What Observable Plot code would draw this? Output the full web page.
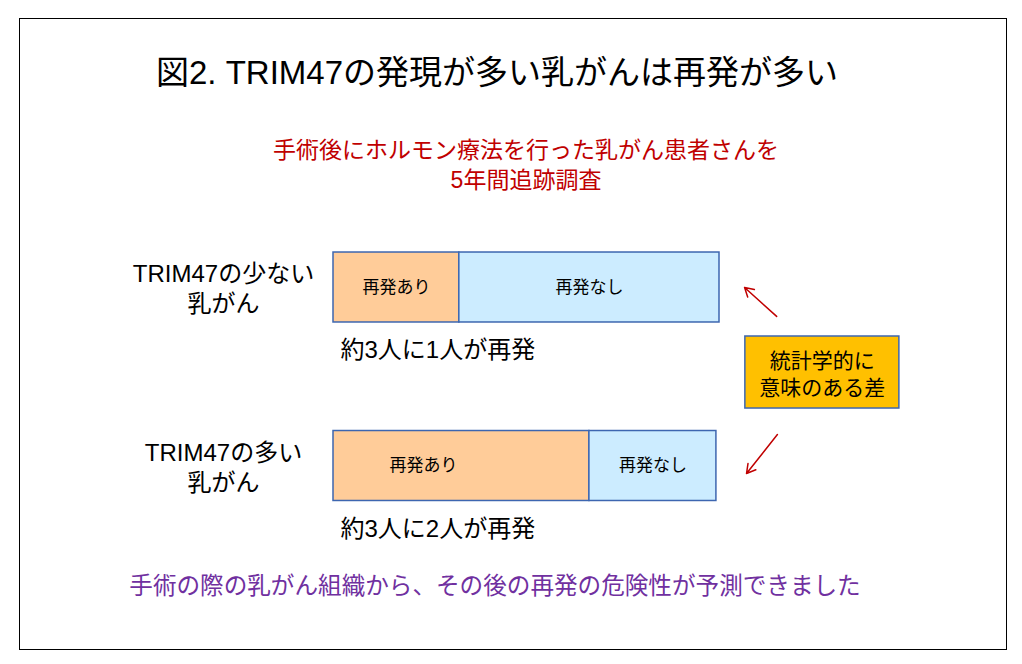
<!DOCTYPE html>
<html><head><meta charset="utf-8">
<script src="https://cdn.jsdelivr.net/npm/d3@7"></script>
<script src="https://cdn.jsdelivr.net/npm/@observablehq/plot@0.6"></script>
<style>
body{margin:0;background:#fff;font-family:"Liberation Sans","Noto Sans CJK JP",sans-serif;}
#page{position:relative;width:1022px;height:664px;overflow:hidden;background:#fff}
#frame{position:absolute;left:19px;top:18px;width:988px;height:632px;border:1.5px solid #000;box-sizing:border-box}
.t{position:absolute;left:0;text-align:center;white-space:pre}
#title{top:55px;width:994px;font-size:33px;line-height:36px;color:#000}
#sub{top:135px;width:1052px;font-size:23px;line-height:30px;color:#C00000}
#cap{top:571px;width:990px;font-size:23.6px;line-height:30px;color:#7030A0}
#chart{position:absolute;left:0;top:230px}
</style></head>
<body><div id="page"><div id="frame"></div>
<div class="t" id="title"></div><div class="t" id="sub"></div><div class="t" id="cap"></div>
<div id="chart"></div></div>
<script>
// ---- data ----
const titleText = "図2. TRIM47の発現が多い乳がんは再発が多い";
const subtitleText = "手術後にホルモン療法を行った乳がん患者さんを\n5年間追跡調査";
const captionText = "手術の際の乳がん組織から、その後の再発の危険性が予測できました";
const groups = ["TRIM47の少ない\n乳がん", "TRIM47の多い\n乳がん"];
const statuses = ["再発あり", "再発なし"];
const recurPct = [32.6, 66.3];
const noRecurPct = [67.4, 32.9];
const summaries = ["約3人に1人が再発", "約3人に2人が再発"];
const noteText = "統計学的に\n意味のある差";

document.getElementById("title").textContent = titleText;
document.getElementById("sub").textContent = subtitleText;
document.getElementById("cap").textContent = captionText;

const rows = groups.map((g, i) => ({group: g, idx: i + 1, summary: summaries[i]}));
const segs = [];
groups.forEach((g, i) => {
  let acc = 0;
  [recurPct[i], noRecurPct[i]].forEach((v, j) => {
    segs.push({group: g, idx: i + 1, status: statuses[j], value: v, x1: acc, x2: acc + v});
    acc += v;
  });
});
const half = 0.196;
const mid = d => (d.x1 + d.x2) / 2;
// annotation layout (in chart units)
const note = [{x1: 106.7, x2: 146.6, y1: 1.2745, y2: 1.678, text: noteText}];
const arrows = [
  {x1: 114.8, y1: 1.162, x2: 106.5, y2: 1.0},
  {x1: 115.0, y1: 1.824, x2: 107.0, y2: 2.042}
];

const chart = Plot.plot({
  width: 1022, height: 330,
  marginLeft: 333, marginRight: 303, marginTop: 57, marginBottom: 94.5,
  x: {domain: [0, 100], axis: null},
  y: {domain: [1, 2], reverse: true, axis: null},
  color: {domain: statuses, range: ["#FFCC99", "#CCECFF"]},
  style: {fontFamily: '"Liberation Sans","Noto Sans CJK JP",sans-serif', background: "transparent", overflow: "visible", color: "#000"},
  marks: [
    Plot.rect(segs, {x1: "x1", x2: "x2", y1: d => d.idx - half, y2: d => d.idx + half, fill: "status", stroke: "#3D66B0", strokeWidth: 1.5}),
    Plot.text(segs.filter(d => !(d.idx === 2 && d.status === statuses[0])), {x: mid, y: "idx", text: "status", fontSize: 17, fill: "#000"}),
    Plot.text(segs.filter(d => d.idx === 2 && d.status === statuses[0]), {x: mid, y: "idx", text: "status", fontSize: 17, dx: -38, fill: "#000"}),
    Plot.text(rows, {x: 0, y: "idx", text: "group", dx: -110, textAnchor: "middle", fontSize: 24, lineHeight: 1.25, fill: "#000"}),
    Plot.text(rows, {x: 0, y: "idx", text: "summary", dx: 7, dy: 63, textAnchor: "start", fontSize: 24, fill: "#000"}),
    Plot.rect(note, {x1: "x1", x2: "x2", y1: "y1", y2: "y2", fill: "#FFC000", stroke: "#3D66B0", strokeWidth: 1.5}),
    Plot.text(note, {x: d => (d.x1 + d.x2) / 2, y: d => (d.y1 + d.y2) / 2, text: "text", fontSize: 21, lineHeight: 1.29, fill: "#000"}),
    Plot.arrow(arrows, {x1: "x1", y1: "y1", x2: "x2", y2: "y2", stroke: "#C00000", strokeWidth: 1.5, headLength: 10})
  ]
});
document.getElementById("chart").appendChild(chart);
</script></body></html>
